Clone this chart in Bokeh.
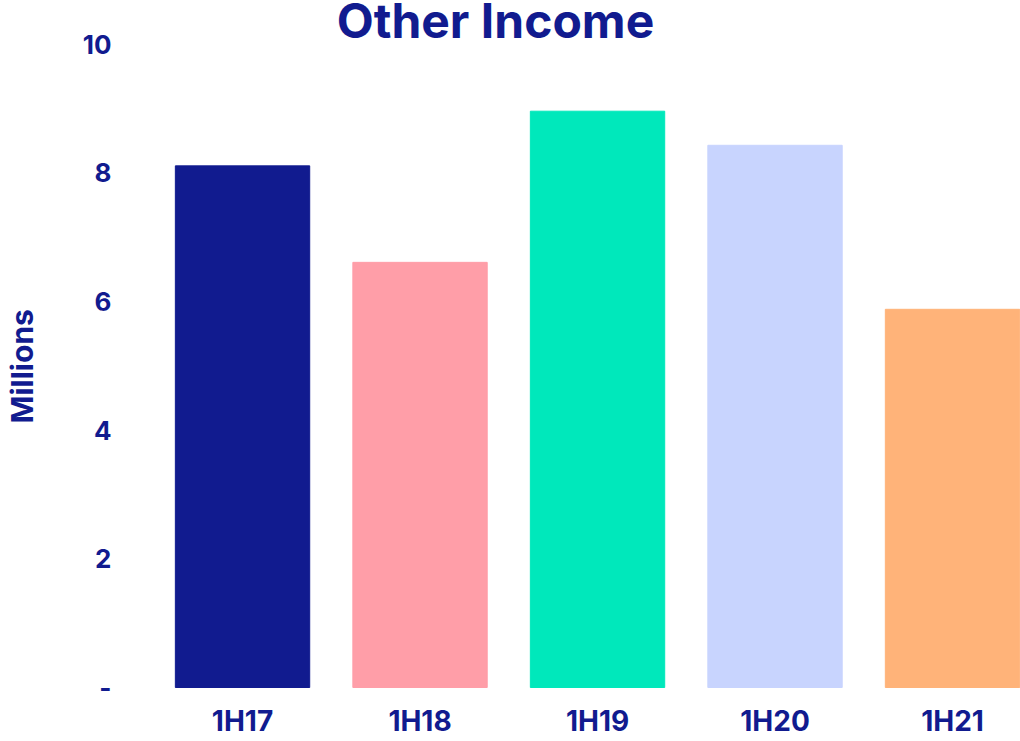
from bokeh.plotting import figure
from bokeh.models import ColumnDataSource, Range1d, FixedTicker, Label
from bokeh.embed import file_html
from bokeh.resources import INLINE

categories = ["1H17", "1H18", "1H19", "1H20", "1H21"]
values = [8.11, 6.61, 8.96, 8.43, 5.88]
colors = ["#111b8f", "#ff9ea8", "#00e8bb", "#c8d4fe", "#ffb379"]
y_ticks = [0, 2, 4, 6, 8, 10]

NAVY = "#111b8f"
FONT = "Inter"
NBSP = "\u00a0"

xs = list(range(len(categories)))
src = ColumnDataSource(dict(x=xs, top=values, color=colors, cat=categories))

p = figure(width=1020, height=740, output_backend="svg", toolbar_location=None,
           x_range=Range1d(-0.665, 4.383), y_range=Range1d(-0.031, 10.681),
           min_border_left=124, min_border_right=0, min_border_top=0,
           min_border_bottom=48)
p.outline_line_color = None
p.grid.visible = False

p.vbar(x="x", top="top", bottom=0, width=0.757, color="color", source=src)

# y axis
ya = p.yaxis[0]
ya.ticker = FixedTicker(ticks=y_ticks)
ya.major_label_overrides = {0: "-"}
ya.axis_line_color = None
ya.major_tick_line_color = None
ya.minor_tick_line_color = None
ya.major_tick_out = 0
ya.major_tick_in = 0
ya.minor_tick_out = 0
ya.major_label_text_font = FONT
ya.major_label_text_font_style = "bold"
ya.major_label_text_font_size = "26px"
ya.major_label_text_color = NAVY
ya.major_label_standoff = 13
ya.axis_label = "Millions" + NBSP * 6
ya.axis_label_text_font = FONT
ya.axis_label_text_font_style = "bold"
ya.axis_label_text_font_size = "30px"
ya.axis_label_text_color = NAVY
ya.axis_label_standoff = 40

# x axis
xa = p.xaxis[0]
xa.ticker = FixedTicker(ticks=xs)
xa.major_label_overrides = {i: c for i, c in enumerate(categories)}
xa.axis_line_color = None
xa.major_tick_line_color = None
xa.minor_tick_line_color = None
xa.major_tick_out = 0
xa.major_tick_in = 0
xa.minor_tick_out = 0
xa.major_label_text_font = FONT
xa.major_label_text_font_style = "bold"
xa.major_label_text_font_size = "28px"
xa.major_label_text_color = NAVY
xa.major_label_standoff = 14

title = Label(x=1.425, y=10.364, text="Other Income", text_font=FONT,
              text_font_style="bold", text_font_size="48px", text_color=NAVY,
              text_align="center", text_baseline="middle", text_line_height=0.8)
p.add_layout(title)

open("out.html", "w").write(file_html(p, INLINE))
